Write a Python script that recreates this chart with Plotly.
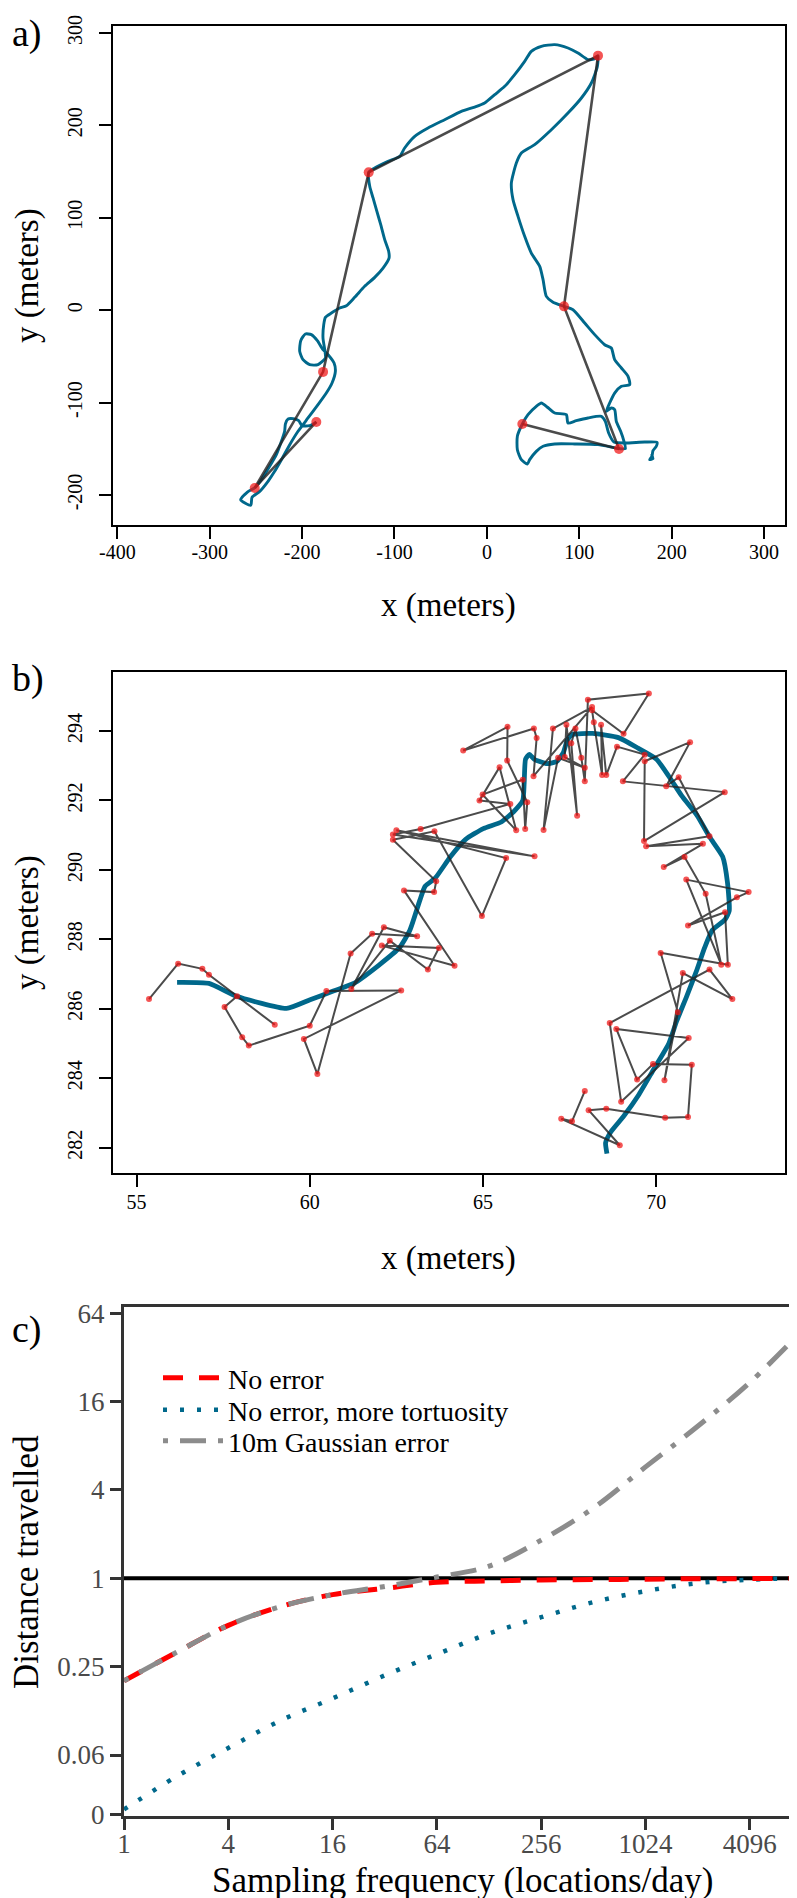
import math
import plotly.graph_objects as go

FONT = "Liberation Serif, Times New Roman, serif"

# ---------------- panel a : true track and hourly fixes ----------------
track_a_x = [-184.6, -191.8, -200.1, -203.7, -209.8, -215.2, -218.1, -218.9, -222.4, -227.9,
             -235.1, -244.1, -250.6, -259.2, -266.5, -255.6, -254.2, -245.9, -236.9, -229.7,
             -222.4, -213.4, -204.4, -193.6, -182.8, -173.8, -167.6, -164.0, -165.4, -171.9,
             -177.4, -183.5, -190.0, -196.5, -201.5, -202.6, -199.0, -191.8, -182.8, -174.8,
             -175.5, -177.4, -176.6, -174.8, -168.3, -159.3, -152.1, -143.1, -132.3, -121.4,
             -112.4, -105.9, -106.3, -110.6, -114.9, -119.6, -123.2, -126.8, -127.9, -121.4,
             -107.0, -94.4, -89.0, -78.1, -63.7, -45.7, -27.6, -13.2, -2.4, 8.5,
             19.3, 30.1, 40.9, 48.1, 59.0, 73.4, 87.8, 98.6, 109.5, 117.0,
             120.3, 119.6, 113.1, 102.3, 87.8, 69.8, 51.7, 37.3, 31.9, 26.5,
             28.3, 33.7, 40.9, 48.1, 57.2, 60.8, 64.4, 71.6, 83.5, 93.2,
             105.9, 116.7, 127.5, 134.7, 138.3, 145.6, 152.8, 154.6, 145.6, 138.3,
             132.9, 129.3, 134.7, 138.3, 140.1, 144.8, 148.4, 149.9, 143.7, 120.3,
             95.0, 73.4, 60.8, 53.5, 46.3, 43.8, 37.3, 33.0, 33.0, 38.4,
             44.5, 53.5, 59.0, 65.5, 73.4, 86.0, 87.8, 96.8, 109.5, 123.9,
             128.2, 131.8, 137.6, 149.2, 170.8, 184.2, 183.4, 179.8, 178.7, 176.2,
             179.8, 178.0]
track_a_y = [-121.0, -125.0, -125.0, -119.6, -117.4, -117.8, -123.2, -131.1, -141.9, -156.4,
             -169.0, -183.4, -191.7, -196.8, -205.1, -211.2, -202.5, -196.1, -185.2, -174.4,
             -161.8, -145.6, -131.1, -116.7, -102.3, -89.7, -78.8, -66.2, -57.2, -48.2,
             -42.8, -33.0, -26.5, -25.8, -33.0, -44.6, -53.6, -59.0, -59.0, -51.8,
             -42.8, -30.1, -15.7, -7.8, -3.1, 2.3, 4.8, 13.9, 25.8, 35.5,
             45.6, 56.4, 63.7, 76.3, 92.5, 108.7, 121.4, 134.0, 149.1, 153.8,
             161.0, 166.4, 175.5, 188.1, 197.1, 206.1, 215.1, 219.8, 224.2, 233.2,
             242.2, 254.8, 269.2, 280.1, 285.5, 287.3, 283.7, 278.3, 271.1, 272.0,
             275.4, 263.8, 245.8, 229.6, 213.3, 195.3, 179.1, 170.0, 159.2, 137.6,
             119.6, 101.5, 79.9, 61.8, 47.4, 33.0, 14.9, 8.5, 4.1, 0.5,
             -13.9, -26.5, -37.4, -41.0, -53.6, -62.6, -71.6, -80.6, -82.4, -89.7,
             -100.5, -109.5, -105.9, -107.7, -120.3, -131.1, -141.9, -149.9, -149.9, -145.5,
             -144.8, -144.8, -147.3, -152.8, -161.8, -166.5, -161.8, -151.0, -136.5, -123.2,
             -113.1, -104.1, -100.5, -105.1, -111.3, -113.1, -122.1, -119.6, -116.7, -114.9,
             -120.3, -132.9, -142.7, -143.7, -142.7, -143.0, -147.3, -152.0, -158.2, -161.8,
             -160.7, -155.6]
fix_a_x = [-184.6, -251.3, -177.3, -127.9, 120.3, 83.5, 143.0, 38.4]
fix_a_y = [-121.0, -192.4, -66.8, 149.1, 275.4, 4.1, -150.2, -123.2]
ticks_a_x = [-400, -300, -200, -100, 0, 100, 200, 300]
ticks_a_y = [-200, -100, 0, 100, 200, 300]

# ---------------- panel b : true track and noisy fixes ----------------
track_b_x = [56.17, 57.09, 57.89, 59.33, 60.01, 60.68, 61.27, 62.00, 62.59, 62.89,
             63.18, 63.33, 63.62, 64.06, 64.50, 65.01, 65.53, 65.90, 66.15, 66.19,
             66.23, 66.34, 66.48, 66.85, 67.14, 67.32, 67.44, 67.58, 68.17, 68.91,
             69.49, 70.01, 70.37, 70.74, 71.18, 71.55, 71.92, 72.06, 72.11, 71.99,
             71.62, 71.40, 71.18, 70.89, 70.59, 70.37, 69.93, 69.49, 69.05, 68.69,
             68.54, 68.58]
track_b_y = [286.76, 286.73, 286.36, 286.01, 286.26, 286.51, 286.73, 287.26, 287.76, 288.26,
             289.13, 289.53, 289.76, 290.38, 290.88, 291.19, 291.38, 291.69, 292.00, 292.50,
             293.19, 293.33, 293.19, 293.06, 293.13, 293.38, 293.75, 293.90, 293.93, 293.81,
             293.50, 293.19, 292.69, 292.13, 291.57, 290.94, 290.38, 289.63, 288.82, 288.57,
             288.26, 287.76, 287.13, 286.38, 285.64, 285.01, 284.26, 283.51, 282.89, 282.45,
             282.14, 281.83]
fix_b_x = [55.36, 56.20, 56.90, 57.09, 58.99, 57.90, 57.54, 58.05, 58.24, 60.00,
           60.48, 62.64, 59.83, 60.22, 61.18, 61.80, 63.10, 62.14, 61.20, 62.31,
           63.41, 63.73, 62.08, 64.18, 62.72, 63.59, 63.65, 62.40, 63.60, 64.97,
           65.67, 62.50, 66.49, 62.40, 63.20, 65.79, 64.90, 65.48, 65.96, 64.99,
           66.15, 66.22, 66.28, 65.70, 65.71, 64.43, 66.47, 66.55, 66.46, 68.15,
           67.02, 66.75, 67.17, 67.94, 67.36, 67.41, 67.72, 67.55, 67.67, 67.84,
           67.94, 68.03, 69.79, 69.06, 68.15, 68.20, 68.44, 68.41, 68.56, 68.87,
           69.67, 69.04, 71.98, 69.65, 69.67, 70.98, 70.29, 70.65, 71.54, 69.71,
           71.35, 70.22, 70.82, 71.43, 71.88, 70.87, 72.67, 72.33, 70.92, 71.99,
           72.07, 70.13, 70.63, 70.24, 70.77, 72.20, 71.54, 68.66, 68.99, 70.94,
           68.85, 69.45, 69.91, 71.03, 70.92, 70.26, 68.56, 68.05, 68.95, 67.26,
           67.57, 67.94]
fix_b_y = [286.28, 287.30, 287.15, 286.98, 285.54, 286.36, 286.05, 285.18, 284.94, 285.51,
           286.51, 286.53, 285.13, 284.12, 287.59, 288.16, 288.09, 288.35, 286.57, 287.96,
           287.13, 287.75, 287.82, 287.24, 289.41, 289.36, 289.67, 290.87, 291.11, 288.67,
           290.34, 291.14, 290.39, 291.02, 291.18, 291.90, 292.00, 292.96, 291.14, 292.17,
           292.60, 291.18, 291.95, 293.15, 294.12, 293.44, 294.07, 293.80, 292.70, 294.69,
           294.07, 291.15, 293.23, 292.94, 293.25, 294.18, 291.56, 293.65, 294.07, 293.23,
           292.55, 294.90, 295.08, 293.92, 294.60, 294.25, 292.73, 294.18, 292.73, 293.55,
           293.32, 292.55, 292.24, 290.83, 293.13, 293.68, 292.41, 292.67, 290.97, 290.68,
           290.75, 290.08, 290.37, 289.31, 287.27, 289.72, 289.36, 289.21, 288.40, 288.78,
           287.27, 287.61, 285.90, 283.94, 287.03, 286.28, 287.13, 285.59, 283.32, 285.16,
           285.42, 283.96, 284.41, 284.39, 282.88, 282.86, 283.12, 283.08, 282.07, 282.83,
           282.76, 283.63]
ticks_b_x = [55, 60, 65, 70]
ticks_b_y = [282, 284, 286, 288, 290, 292, 294]

# ---------------- panel c : distance travelled vs sampling frequency ----------------
freq = [1, 2, 4, 8, 16, 32, 64, 128, 256, 512, 1024, 2048, 4096, 8192]
ratio_noerr = [0.200, 0.312, 0.478, 0.642, 0.774, 0.853, 0.939, 0.959, 0.973, 0.980,
               0.986, 0.993, 0.995, 1.0]
ratio_tort = [0.0266, 0.0445, 0.0698, 0.1073, 0.152, 0.218, 0.304, 0.420, 0.543, 0.688,
              0.818, 0.927, 0.979, 1.0]
ratio_gauss = [0.200, 0.312, 0.478, 0.642, 0.774, 0.880, 1.02, 1.21, 1.82, 3.01,
               5.74, 10.85, 21.6, 48.5]
ticks_c_x = [1, 4, 16, 64, 256, 1024, 4096]
ticks_c_y = [0.0245, 0.0625, 0.25, 1, 4, 16, 64]
ticks_c_y_text = ["0", "0.06", "0.25", "1", "4", "16", "64"]
legend_names = ["No error", "No error, more tortuosity", "10m Gaussian error"]

BLUE = "#00688B"
GRAY_LINE = "rgba(35,35,35,0.82)"
RED_PT = "rgba(240,20,20,0.72)"

fig = go.Figure()

# panel a
fig.add_trace(go.Scatter(x=track_a_x, y=track_a_y, mode="lines", xaxis="x", yaxis="y",
                         line=dict(color=BLUE, width=2.9, shape="spline", smoothing=0.6),
                         showlegend=False, hoverinfo="skip"))
fig.add_trace(go.Scatter(x=fix_a_x, y=fix_a_y, mode="lines", xaxis="x", yaxis="y",
                         line=dict(color=GRAY_LINE, width=2.6), showlegend=False))
fig.add_trace(go.Scatter(x=fix_a_x, y=fix_a_y, mode="markers", xaxis="x", yaxis="y",
                         marker=dict(color=RED_PT, size=10), showlegend=False))

# panel b
fig.add_trace(go.Scatter(x=track_b_x, y=track_b_y, mode="lines", xaxis="x2", yaxis="y2",
                         line=dict(color=BLUE, width=4.8, shape="spline", smoothing=0.5),
                         showlegend=False, hoverinfo="skip"))
fig.add_trace(go.Scatter(x=fix_b_x, y=fix_b_y, mode="lines", xaxis="x2", yaxis="y2",
                         line=dict(color=GRAY_LINE, width=2), showlegend=False))
fig.add_trace(go.Scatter(x=fix_b_x, y=fix_b_y, mode="markers", xaxis="x2", yaxis="y2",
                         marker=dict(color=RED_PT, size=6), showlegend=False))

# panel c (one legend box per entry so the row spacing matches)
fig.add_trace(go.Scatter(x=freq, y=ratio_tort, mode="lines", xaxis="x3", yaxis="y3",
                         name=legend_names[1], legend="legend2",
                         line=dict(color=BLUE, width=4.5, dash="4px,13px", shape="spline")))
fig.add_trace(go.Scatter(x=freq, y=ratio_noerr, mode="lines", xaxis="x3", yaxis="y3",
                         name=legend_names[0], legend="legend",
                         line=dict(color="#FF0000", width=5, dash="20px,16px", shape="spline")))
fig.add_trace(go.Scatter(x=freq, y=ratio_gauss, mode="lines", xaxis="x3", yaxis="y3",
                         name=legend_names[2], legend="legend3",
                         line=dict(color="#8C8C8C", width=5, dash="5px,12px,26px,12px", shape="spline")))

# reference line at ratio 1
fig.add_shape(type="line", xref="x3 domain", x0=0, x1=1, yref="y3", y0=1, y1=1,
              line=dict(color="black", width=4), layer="below")

H = 1898.0
W = 797.0

def px(v):
    return v / W

def py(v):
    return 1 - v / H

axis_ab = dict(showline=True, linecolor="black", linewidth=1.8, mirror=True,
               ticks="outside", ticklen=12, tickwidth=1.8, tickcolor="black",
               showgrid=False, zeroline=False, automargin=False,
               tickfont=dict(family=FONT, size=20, color="black"))

def leg(ycenter):
    return dict(x=px(150), y=py(ycenter), xanchor="left", yanchor="middle",
                bgcolor="rgba(0,0,0,0)", borderwidth=0,
                font=dict(family=FONT, size=28, color="black"), itemwidth=60)

lay = dict(
    template="none",
    width=797, height=1898,
    margin=dict(l=0, r=0, t=0, b=0, autoexpand=False),
    paper_bgcolor="white", plot_bgcolor="white",
    font=dict(family=FONT, color="black"),
    xaxis=dict(axis_ab, domain=[px(105), px(777)], range=[-404.7, 322.7], anchor="y",
               tickvals=ticks_a_x, ticktext=[str(v) for v in ticks_a_x], ticklabelstandoff=-4),
    yaxis=dict(axis_ab, domain=[py(517), py(18)], range=[-232.5, 307.5], anchor="x",
               tickvals=ticks_a_y, ticktext=[str(v) for v in ticks_a_y], tickangle=-90,
               ticklabelstandoff=9),
    xaxis2=dict(axis_ab, domain=[px(105), px(777)], range=[54.32, 73.72], anchor="y2",
                tickvals=ticks_b_x, ticktext=[str(v) for v in ticks_b_x], ticklabelstandoff=-2),
    yaxis2=dict(axis_ab, domain=[py(1165), py(664)], range=[281.27, 295.70], anchor="x2",
                tickvals=ticks_b_y, ticktext=[str(v) for v in ticks_b_y], tickangle=-90,
                ticklabelstandoff=9),
    xaxis3=dict(type="log", domain=[px(116), px(794)], range=[0, 13 * math.log10(2)],
                anchor="y3", showline=True, linecolor="#333333", linewidth=3, mirror=True,
                ticks="outside", ticklen=11, tickwidth=3, tickcolor="#333333",
                showgrid=False, zeroline=False, automargin=False,
                tickvals=ticks_c_x, ticktext=[str(v) for v in ticks_c_x],
                ticklabelstandoff=-9,
                tickfont=dict(family=FONT, size=27, color="#4a4a4a")),
    yaxis3=dict(type="log", domain=[py(1808), py(1299)],
                range=[-5.38 * math.log10(2), 6.14 * math.log10(2)],
                anchor="x3", showline=True, linecolor="#333333", linewidth=3, mirror=True,
                ticks="outside", ticklen=11, tickwidth=3, tickcolor="#333333",
                showgrid=False, zeroline=False, automargin=False,
                tickvals=ticks_c_y, ticktext=ticks_c_y_text,
                tickfont=dict(family=FONT, size=27, color="#4a4a4a")),
    legend=leg(1370),
    legend2=leg(1402),
    legend3=leg(1433),
    showlegend=True,
)
fig.update_layout(**lay)

ann = []
def title(text, x, y, size, angle=0):
    ann.append(dict(text=text, x=x, y=y, xref="paper", yref="paper", showarrow=False,
                    textangle=angle, xanchor="center", yanchor="middle",
                    font=dict(family=FONT, size=size, color="black")))

title("x (meters)", px(441), py(598), 33)
title("y (meters)", px(19), py(268), 33, -90)
title("x (meters)", px(441), py(1250), 33)
title("y (meters)", px(19), py(915), 33, -90)
title("Sampling frequency (locations/day)", px(455), py(1872), 35)
title("Distance travelled", px(18), py(1554), 35, -90)

for lab, ytop in (("a)", 2), ("b)", 647), ("c)", 1298)):
    ann.append(dict(text=lab, x=px(2), y=py(ytop), xref="paper", yref="paper", showarrow=False,
                    xanchor="left", yanchor="top",
                    font=dict(family=FONT, size=38, color="black")))

fig.update_layout(annotations=ann)
fig.write_html("out.html")
